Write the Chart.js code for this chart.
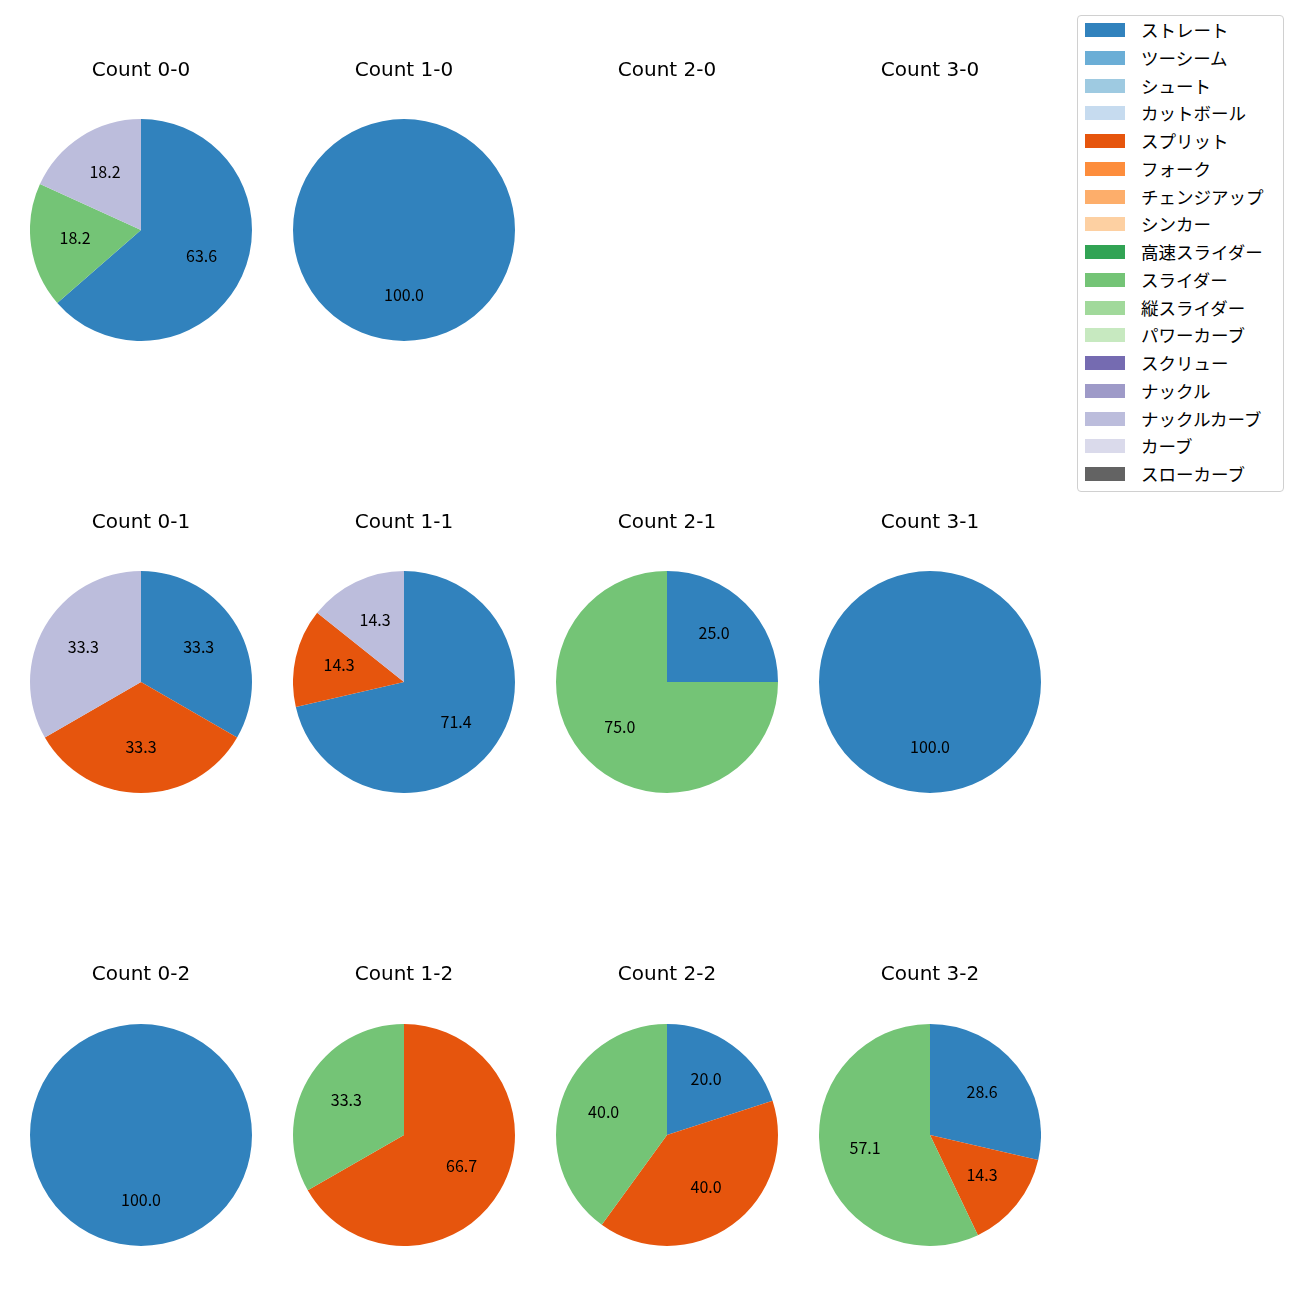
<!DOCTYPE html>
<html>
<head>
<meta charset="utf-8">
<script src="https://cdn.jsdelivr.net/npm/chart.js@4.4.0/dist/chart.umd.min.js"></script>
<style>
    body { margin: 0; background: #fff; }
    #wrap { position: relative; width: 1300px; height: 1300px; font-family: "Noto Sans CJK JP", sans-serif; }
    #wrap canvas { position: absolute; }
    #legend { position: absolute; left: 1077px; top: 15px; width: 205px; height: 475px; border: 1px solid #d0d0d0; border-radius: 4px; background: #fff; }
    .item { position: absolute; left: 0; height: 20px; }
    .swatch { position: absolute; left: 7px; width: 40px; height: 14px; }
    .label { position: absolute; left: 63px; font-size: 17.5px; line-height: 20px; color: #000; white-space: nowrap; }
</style>
</head>
<body>
<div id="wrap">
    <div id="legend"></div>
</div>
<script>
"use strict";

// Pitch types and colours (legend order)
const pitchTypes = ['ストレート', 'ツーシーム', 'シュート', 'カットボール', 'スプリット', 'フォーク', 'チェンジアップ', 'シンカー', '高速スライダー', 'スライダー', '縦スライダー', 'パワーカーブ', 'スクリュー', 'ナックル', 'ナックルカーブ', 'カーブ', 'スローカーブ'];
const pitchColors = ['#3182bd', '#6baed6', '#9ecae1', '#c6dbef', '#e6550d', '#fd8d3c', '#fdae6b', '#fdd0a2', '#31a354', '#74c476', '#a1d99b', '#c7e9c0', '#756bb1', '#9e9ac8', '#bcbddc', '#dadaeb', '#636363'];

// One pie per count (titles, pitch types used, percentages)
const countTitles = ['Count 0-0', 'Count 1-0', 'Count 2-0', 'Count 3-0',
                     'Count 0-1', 'Count 1-1', 'Count 2-1', 'Count 3-1',
                     'Count 0-2', 'Count 1-2', 'Count 2-2', 'Count 3-2'];
const countPitches = [
    ['ストレート', 'スライダー', 'ナックルカーブ'],
    ['ストレート'],
    [],
    [],
    ['ストレート', 'スプリット', 'ナックルカーブ'],
    ['ストレート', 'スプリット', 'ナックルカーブ'],
    ['ストレート', 'スライダー'],
    ['ストレート'],
    ['ストレート'],
    ['スプリット', 'スライダー'],
    ['ストレート', 'スプリット', 'スライダー'],
    ['ストレート', 'スプリット', 'スライダー']
];
const countValues = [
    [63.6, 18.2, 18.2],
    [100.0],
    [],
    [],
    [33.3, 33.3, 33.3],
    [71.4, 14.3, 14.3],
    [25.0, 75.0],
    [100.0],
    [100.0],
    [66.7, 33.3],
    [20.0, 40.0, 40.0],
    [28.6, 14.3, 57.1]
];

// Grid layout
const colCenters = [141, 404, 667, 930];
const titleRows = [69, 521, 973];
const pieRows = [230, 682, 1135];
const pieSize = 222;

const wrap = document.getElementById('wrap');
const fontFamily = '"Noto Sans CJK JP", sans-serif';

// Percentage labels at 0.6 of the radius, like autopct
const pctLabels = {
    id: 'pctLabels',
    afterDatasetsDraw(chart) {
        const ctx = chart.ctx;
        const meta = chart.getDatasetMeta(0);
        const values = chart.data.datasets[0].data;
        ctx.save();
        ctx.font = '16px ' + fontFamily;
        ctx.fillStyle = '#000';
        ctx.textAlign = 'center';
        ctx.textBaseline = 'middle';
        meta.data.forEach((arc, i) => {
            const p = arc.getProps(['x', 'y', 'startAngle', 'endAngle', 'outerRadius'], true);
            const mid = (p.startAngle + p.endAngle) / 2;
            const r = p.outerRadius * 0.6;
            ctx.fillText(values[i].toFixed(1), p.x + Math.cos(mid) * r, p.y + Math.sin(mid) * r - 2);
        });
        ctx.restore();
    }
};

countTitles.forEach((title, k) => {
    const col = k % 4;
    const row = Math.floor(k / 4);
    const titleSize = 20;
    const lineH = titleSize * 1.2;
    const padTop = 10;
    const top = titleRows[row] - padTop - lineH / 2 + 2;
    const areaTop = pieRows[row] - pieSize / 2;
    const padBottom = areaTop - (top + padTop + lineH);
    const height = pieRows[row] + pieSize / 2 - top;

    const canvas = document.createElement('canvas');
    canvas.width = pieSize;
    canvas.height = Math.round(height);
    canvas.style.left = (colCenters[col] - pieSize / 2) + 'px';
    canvas.style.top = top + 'px';
    canvas.style.width = pieSize + 'px';
    canvas.style.height = Math.round(height) + 'px';
    wrap.appendChild(canvas);

    const labels = countPitches[k];
    new Chart(canvas.getContext('2d'), {
        type: 'pie',
        data: {
            labels: labels,
            datasets: [{
                data: countValues[k],
                backgroundColor: labels.map(l => pitchColors[pitchTypes.indexOf(l)]),
                borderWidth: 0,
                hoverOffset: 0,
                offset: 0
            }]
        },
        options: {
            responsive: false,
            animation: false,
            events: [],
            layout: { padding: 0 },
            plugins: {
                legend: { display: false },
                tooltip: { enabled: false },
                title: {
                    display: true,
                    text: title,
                    color: '#000',
                    font: { family: '"DejaVu Sans", sans-serif', size: titleSize, weight: 'normal', lineHeight: 1.2 },
                    padding: { top: padTop, bottom: padBottom }
                }
            }
        },
        plugins: [pctLabels]
    });
});

// Legend
const legend = document.getElementById('legend');
pitchTypes.forEach((name, i) => {
    const item = document.createElement('div');
    item.className = 'item';
    item.style.top = (14 + i * 27.75 - 10) + 'px';
    item.innerHTML = '<div class="swatch" style="top:3px;background:' + pitchColors[i] + '"></div>' +
                     '<div class="label">' + name + '</div>';
    legend.appendChild(item);
});
</script>
</body>
</html>
